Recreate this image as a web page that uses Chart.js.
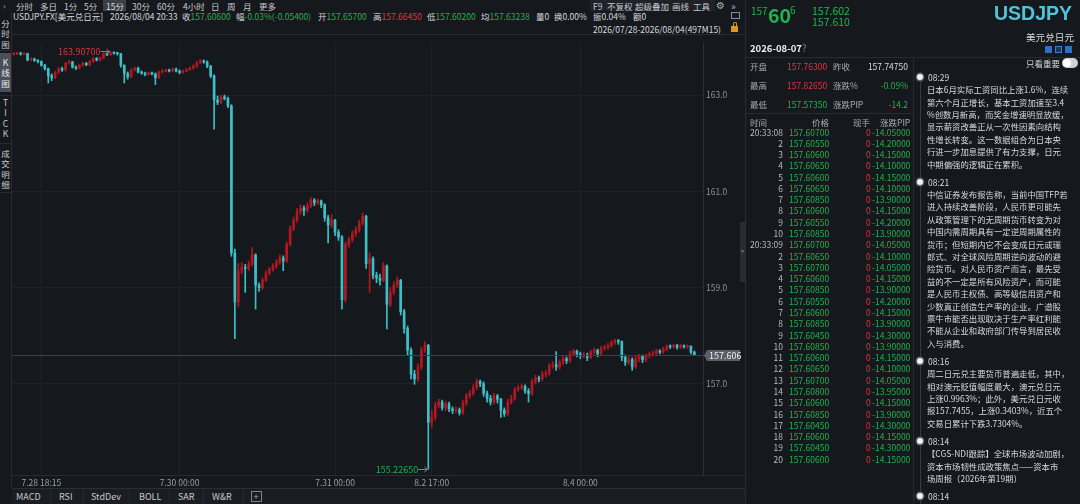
<!DOCTYPE html>
<html>
<head>
<meta charset="utf-8">
<script src="https://cdn.jsdelivr.net/npm/chart.js@4.4.1/dist/chart.umd.min.js"></script>
<style>
    * { box-sizing: border-box; }
    html, body { margin: 0; padding: 0; }
    body {
        width: 1080px; height: 504px; overflow: hidden; position: relative;
        background: #15181d; color: #c6c9ce;
        font-family: "Noto Sans CJK SC", "Noto Sans", "DejaVu Sans", sans-serif;
        font-size: 8.5px;
    }
    .a { position: absolute; white-space: nowrap; line-height: 1; }
    .g { color: #22b24c; }
    .r { color: #e2343f; }
    .w { color: #d8dadf; }
    .m { color: #a9adb4; }
    .hl { position: absolute; height: 1px; background: #272b32; }
    .vl { position: absolute; width: 1px; background: #272b32; }
    .tab { position: absolute; left: 0; width: 11px; text-align: center; line-height: 10.5px; font-size: 8.5px; color: #c9ccd1; }
    .clip { overflow: hidden; }
    #kline { position: absolute; left: 12px; top: 35px; }
</style>
</head>
<body>

<!-- top toolbar -->
<div class="a m" style="left:3px;top:1px;">›</div>
<div class="a" style="left:103px;top:0;width:23px;height:11px;background:#3b3f48;"></div>
<div class="a" style="left:16px;top:1.5px;">分时</div>
<div class="a" style="left:40px;top:1.5px;">多日</div>
<div class="a" style="left:64px;top:1.5px;">1分</div>
<div class="a" style="left:84px;top:1.5px;">5分</div>
<div class="a w" style="left:106px;top:1.5px;">15分</div>
<div class="a" style="left:132px;top:1.5px;">30分</div>
<div class="a" style="left:157px;top:1.5px;">60分</div>
<div class="a" style="left:183px;top:1.5px;">4小时</div>
<div class="a" style="left:211px;top:1.5px;">日</div>
<div class="a" style="left:227px;top:1.5px;">周</div>
<div class="a" style="left:243px;top:1.5px;">月</div>
<div class="a" style="left:259px;top:1.5px;">更多</div>

<div class="a" style="left:590px;top:0;width:125px;height:11px;background:#1f2228;"></div>
<div class="a" style="left:593px;top:1.5px;">F9</div>
<div class="a" style="left:607px;top:1.5px;">不复权</div>
<div class="a" style="left:635px;top:1.5px;">超级叠加</div>
<div class="a" style="left:672px;top:1.5px;">画线</div>
<div class="a" style="left:693px;top:1.5px;">工具</div>
<div class="a m" style="left:716px;top:0.5px;font-size:10px;font-family:'DejaVu Sans';">⚙</div>
<div class="a m" style="left:731px;top:0.5px;font-size:10px;">»</div>

<!-- info line -->
<div class="a w" style="left:13px;top:12px;">USDJPY.FX[美元兑日元]</div>
<div class="a w" style="left:110px;top:12px;">2026/08/04 20:33</div>
<div class="a" style="left:182px;top:12px;"><span class="w">收</span><span class="g">157.60600</span></div>
<div class="a" style="left:236px;top:12px;"><span class="w">幅</span><span class="g">-0.03%(-0.05400)</span></div>
<div class="a" style="left:318px;top:12px;"><span class="w">开</span><span class="g">157.65700</span></div>
<div class="a" style="left:373px;top:12px;"><span class="w">高</span><span class="r">157.66450</span></div>
<div class="a" style="left:427px;top:12px;"><span class="w">低</span><span class="g">157.60200</span></div>
<div class="a" style="left:481px;top:12px;"><span class="w">均</span><span class="g">157.63238</span></div>
<div class="a w" style="left:536px;top:12px;">量0</div>
<div class="a w" style="left:554px;top:12px;">换0.00%</div>
<div class="a w" style="left:593px;top:12px;">振0.04%</div>
<div class="a w" style="left:633px;top:12px;">额0</div>
<div class="a" style="left:731px;top:12px;width:9px;height:7px;border:1px solid #8a8e96;"></div>
<div class="a w" style="left:593px;top:24.5px;">2026/07/28-2026/08/04(497M15)</div>
<div class="a" style="left:731px;top:26px;width:7px;height:6px;background:#d99a1c;"></div>
<div class="a" style="left:733px;top:22px;width:4px;height:5px;border:1px solid #d99a1c;border-bottom:none;border-radius:2px 2px 0 0;"></div>

<!-- left vertical tabs -->
<div class="vl" style="left:11px;top:12px;height:476px;"></div>
<div class="tab" style="top:17.8px;">分<br>时<br>图</div>
<div class="hl" style="left:0;top:50px;width:11px;"></div>
<div class="a" style="left:0;top:53px;width:11px;height:39px;background:#4b4f58;"></div>
<div class="tab" style="top:56.8px;color:#eceef1;">K<br>线<br>图</div>
<div class="hl" style="left:0;top:95px;width:11px;"></div>
<div class="tab" style="top:96.8px;">T<br>I<br>C<br>K</div>
<div class="hl" style="left:0;top:143px;width:11px;"></div>
<div class="tab" style="top:147.8px;">成<br>交<br>明<br>细</div>
<div class="hl" style="left:0;top:192px;width:11px;"></div>

<!-- chart frame -->
<div class="hl" style="left:12px;top:34px;width:733px;"></div>
<div class="hl" style="left:12px;top:475px;width:733px;"></div>
<canvas id="kline" width="733" height="453"></canvas>

<!-- bottom indicator bar -->
<div class="a" style="left:12px;top:488px;width:733px;height:16px;background:#1a1d22;border-top:1px solid #2a2e35;"></div>
<div class="a" style="left:16px;top:492px;font-size:9px;">MACD</div>
<div class="vl" style="left:50px;top:490px;height:12px;"></div>
<div class="a" style="left:59px;top:492px;font-size:9px;">RSI</div>
<div class="vl" style="left:83px;top:490px;height:12px;"></div>
<div class="a" style="left:91px;top:492px;font-size:9px;">StdDev</div>
<div class="vl" style="left:129px;top:490px;height:12px;"></div>
<div class="a" style="left:139px;top:492px;font-size:9px;">BOLL</div>
<div class="vl" style="left:169px;top:490px;height:12px;"></div>
<div class="a" style="left:178px;top:492px;font-size:9px;">SAR</div>
<div class="vl" style="left:203px;top:490px;height:12px;"></div>
<div class="a" style="left:212px;top:492px;font-size:9px;">W&amp;R</div>
<div class="vl" style="left:243px;top:490px;height:12px;"></div>
<div class="a" style="left:251px;top:491px;width:11px;height:11px;border:1px solid #7d818a;"></div>
<div class="a m" style="left:253.5px;top:491.5px;font-size:9px;">+</div>

<!-- collapse handle + panel border -->
<div class="vl" style="left:745px;top:0;height:504px;"></div>
<div class="a" style="left:740px;top:222px;width:6px;height:60px;background:#2a2d33;border-radius:2px 0 0 2px;"></div>
<div class="a m" style="left:741px;top:248px;font-size:6px;">»</div>

<!-- right quote panel -->
<div class="a g" style="left:751px;top:5.5px;font-size:10px;">157.</div>
<div class="a g" style="left:768px;top:5.3px;font-size:19.5px;font-weight:bold;">60</div>
<div class="a g" style="left:790px;top:5px;font-size:10px;">6</div>
<div class="a g" style="left:812px;top:5.8px;font-size:10.5px;">157.602</div>
<div class="a g" style="left:812px;top:16.8px;font-size:10.5px;">157.610</div>
<div class="a" style="right:8px;top:4px;font-size:19.5px;font-weight:bold;color:#52c3da;font-family:'Liberation Sans',Arial,sans-serif;">USDJPY</div>
<div class="a w" style="right:6px;top:33px;font-size:9.6px;">美元兑日元</div>
<div class="a" style="left:1045px;top:46px;width:7px;height:7px;background:#2f6fc4;"></div>
<div class="a" style="left:1055px;top:46px;width:7px;height:7px;background:#1d3557;border:1px solid #3f7fd0;"></div>
<div class="a" style="left:1065px;top:46px;width:7px;height:7px;background:#2f6fc4;"></div>
<div class="a" style="left:750px;top:44.3px;font-size:9.5px;font-weight:bold;color:#eef0f3;">2026-08-07<span style="font-weight:normal;color:#7d818a;">?</span></div>
<div class="hl" style="left:746px;top:57px;width:334px;"></div>
<div class="vl" style="left:913px;top:57px;height:447px;"></div>

<div class="a m" style="left:750px;top:62px;">开盘</div>
<div class="a r" style="left:787px;top:62px;">157.76300</div>
<div class="a m" style="left:833px;top:62px;">昨收</div>
<div class="a w" style="right:172px;top:62px;">157.74750</div>
<div class="a m" style="left:750px;top:81px;">最高</div>
<div class="a r" style="left:787px;top:81px;">157.82650</div>
<div class="a m" style="left:833px;top:81px;">涨跌%</div>
<div class="a g" style="right:172px;top:81px;">-0.09%</div>
<div class="a m" style="left:750px;top:100px;">最低</div>
<div class="a g" style="left:787px;top:100px;">157.57350</div>
<div class="a m" style="left:833px;top:100px;">涨跌PIP</div>
<div class="a g" style="right:172px;top:100px;">-14.2</div>
<div class="hl" style="left:746px;top:113px;width:167px;"></div>
<div class="a m" style="left:750px;top:117.7px;">时间</div>
<div class="a m" style="left:812px;top:117.7px;">价格</div>
<div class="a m" style="left:853px;top:117.7px;">现手</div>
<div class="a m" style="left:880px;top:117.7px;">涨跌PIP</div>
<div id="ticks"></div>

<div class="a w" style="left:1026px;top:58.7px;">只看重要</div>
<div class="a" style="left:1062px;top:58px;width:16px;height:10px;border-radius:5px;background:#cfd1d5;"></div>
<div class="a" style="left:1063px;top:59px;width:8px;height:8px;border-radius:4px;background:#ffffff;"></div>
<div class="vl" style="left:920px;top:72px;height:432px;background:#363a41;"></div>
<div id="news"></div>

<script>
// 15-minute candles, USDJPY 7.28 18:15 -> 8.4 20:33
const firstOpen = 163.85;

const closes = [
    163.86, 163.87, 163.85, 163.86, 163.73, 163.75, 163.72, 163.70, 163.62, 163.55,
    163.40, 163.36, 163.47, 163.55, 163.52, 163.66, 163.69, 163.58, 163.56, 163.62,
    163.66, 163.63, 163.70, 163.76, 163.73, 163.77, 163.86, 163.84, 163.88, 163.87,
    163.86, 163.62, 163.45, 163.38, 163.52, 163.56, 163.48, 163.46, 163.43, 163.46,
    163.44, 163.36, 163.48, 163.50, 163.52, 163.50, 163.54, 163.50, 163.47, 163.50,
    163.53, 163.56, 163.60, 163.67, 163.71, 163.69, 163.60, 163.40, 162.90, 162.85,
    162.96, 162.93, 162.78, 159.72, 158.70, 159.35, 159.42, 159.40, 159.48, 159.68,
    159.05, 159.00, 159.15, 159.30, 159.38, 159.45, 159.52, 159.62, 159.55, 159.90,
    160.22, 160.40, 160.58, 160.65, 160.60, 160.70, 160.82, 160.76, 160.80, 160.72,
    160.45, 160.30, 160.40, 160.15, 160.05, 158.75, 159.90, 160.00, 160.12, 160.20,
    160.35, 160.48, 159.50, 159.60, 159.25, 159.20, 159.15, 159.45, 158.65, 158.90,
    159.05, 159.15, 158.50, 158.15, 157.70, 157.20, 157.10, 157.35, 157.70, 157.80,
    156.20, 156.30, 156.55, 156.62, 156.50, 156.58, 156.48, 156.44, 156.46, 156.40,
    156.60, 156.75, 156.80, 156.92, 157.05, 157.00, 156.80, 156.70, 156.62, 156.75,
    156.68, 156.45, 156.38, 156.62, 156.70, 156.88, 156.92, 156.95, 156.85, 156.80,
    157.05, 157.12, 157.10, 157.20, 157.22, 157.38, 157.40, 157.35, 157.45, 157.52,
    157.48, 157.62, 157.68, 157.62, 157.58, 157.60, 157.55, 157.66, 157.70, 157.62,
    157.74, 157.76, 157.80, 157.86, 157.90, 157.88, 157.55, 157.45, 157.50, 157.35,
    157.52, 157.58, 157.50, 157.58, 157.62, 157.64, 157.68, 157.66, 157.72, 157.78,
    157.77, 157.80, 157.76, 157.79, 157.77, 157.78, 157.66, 157.606,
];

const highs = [
    163.88, 163.89, 163.89, 163.88, 163.87, 163.78, 163.77, 163.74, 163.71, 163.64,
    163.56, 163.44, 163.49, 163.57, 163.58, 163.68, 163.72, 163.70, 163.61, 163.64,
    163.68, 163.68, 163.72, 163.78, 163.78, 163.79, 163.88, 163.88, 163.907, 163.90,
    163.89, 163.87, 163.63, 163.48, 163.55, 163.58, 163.58, 163.50, 163.48, 163.48,
    163.48, 163.46, 163.50, 163.53, 163.54, 163.54, 163.56, 163.56, 163.52, 163.52,
    163.55, 163.58, 163.63, 163.70, 163.74, 163.73, 163.71, 163.62, 163.42, 162.98,
    163.00, 163.00, 162.96, 162.80, 159.80, 159.50, 159.52, 159.48, 159.55, 159.83,
    159.70, 159.10, 159.20, 159.35, 159.42, 159.50, 159.58, 159.68, 159.66, 159.95,
    160.28, 160.46, 160.64, 160.72, 160.70, 160.76, 160.87, 160.85, 160.84, 160.82,
    160.74, 160.50, 160.52, 160.42, 160.20, 160.08, 159.95, 160.05, 160.18, 160.26,
    160.40, 160.55, 160.50, 159.72, 159.64, 159.32, 159.28, 159.52, 159.47, 159.00,
    159.12, 159.22, 159.17, 158.55, 158.20, 157.75, 157.28, 157.42, 157.76, 157.88,
    157.82, 156.45, 156.62, 156.68, 156.66, 156.64, 156.62, 156.52, 156.52, 156.50,
    156.66, 156.80, 156.86, 156.98, 157.10, 157.08, 157.04, 156.85, 156.76, 156.80,
    156.78, 156.70, 156.50, 156.68, 156.76, 156.92, 156.97, 157.00, 156.98, 156.90,
    157.10, 157.18, 157.16, 157.26, 157.28, 157.42, 157.46, 157.67, 157.50, 157.58,
    157.56, 157.68, 157.72, 157.70, 157.66, 157.65, 157.64, 157.70, 157.74, 157.72,
    157.78, 157.80, 157.84, 157.90, 157.93, 157.92, 157.89, 157.60, 157.56, 157.54,
    157.58, 157.62, 157.60, 157.62, 157.66, 157.68, 157.72, 157.71, 157.76, 157.81,
    157.81, 157.83, 157.82, 157.82, 157.81, 157.81, 157.79, 157.68,
];

const lows = [
    163.83, 163.84, 163.83, 163.84, 163.71, 163.71, 163.70, 163.67, 163.60, 163.52,
    163.25, 163.30, 163.34, 163.45, 163.49, 163.50, 163.64, 163.56, 163.53, 163.54,
    163.60, 163.61, 163.61, 163.68, 163.71, 163.71, 163.75, 163.82, 163.82, 163.85,
    163.83, 163.58, 163.25, 163.33, 163.36, 163.50, 163.46, 163.43, 163.40, 163.41,
    163.42, 163.22, 163.34, 163.46, 163.48, 163.48, 163.48, 163.48, 163.44, 163.45,
    163.48, 163.51, 163.54, 163.58, 163.65, 163.66, 163.57, 163.36, 162.29, 162.80,
    162.82, 162.90, 162.74, 159.65, 157.94, 158.60, 159.28, 158.90, 159.35, 159.45,
    158.55, 158.92, 158.96, 159.12, 159.26, 159.34, 159.40, 159.48, 159.35, 159.52,
    159.86, 160.18, 160.36, 160.52, 160.50, 160.56, 160.66, 160.70, 160.72, 160.66,
    160.38, 159.93, 160.25, 160.08, 159.98, 158.55, 158.70, 159.84, 159.95, 160.06,
    160.15, 160.30, 159.40, 158.90, 159.18, 159.10, 159.05, 159.12, 158.14, 158.60,
    158.85, 159.00, 158.43, 158.05, 157.60, 157.10, 156.99, 157.05, 157.30, 157.65,
    155.2265, 156.10, 156.25, 156.50, 156.45, 156.44, 156.42, 156.38, 156.40, 156.35,
    156.36, 156.55, 156.70, 156.76, 156.88, 156.94, 156.74, 156.62, 156.56, 156.58,
    156.60, 156.30, 156.32, 156.34, 156.58, 156.66, 156.84, 156.88, 156.80, 156.62,
    156.76, 157.00, 157.04, 157.06, 157.14, 157.18, 157.32, 157.28, 157.30, 157.40,
    157.42, 157.44, 157.58, 157.56, 157.52, 157.54, 157.48, 157.52, 157.62, 157.56,
    157.58, 157.70, 157.72, 157.76, 157.82, 157.82, 157.48, 157.38, 157.40, 157.28,
    157.32, 157.46, 157.44, 157.46, 157.54, 157.58, 157.60, 157.62, 157.63, 157.69,
    157.73, 157.74, 157.72, 157.73, 157.74, 157.73, 157.62, 157.59,
];

// bottom axis labels, keyed by candle index
const xTickLabels = {
    8: "7.28 18:15",
    48: "7.30 00:00",
    93: "7.31 00:00",
    121: "8.2 17:00",
    164: "8.4 00:00",
};
const yTicks = [157, 159, 161, 163];

// time & sales list
const tsTimes = ["20:33:08", "2", "3", "4", "5", "6", "7", "8", "9", "10",
    "20:33:09", "2", "3", "4", "5", "6", "7", "8", "9", "10",
    "11", "12", "13", "14", "15", "16", "17", "18", "19", "20"];
const tsPrices = ["157.60700", "157.60550", "157.60600", "157.60650", "157.60600",
    "157.60650", "157.60850", "157.60600", "157.60550", "157.60850",
    "157.60700", "157.60650", "157.60700", "157.60600", "157.60850",
    "157.60550", "157.60600", "157.60850", "157.60450", "157.60850",
    "157.60600", "157.60650", "157.60700", "157.60800", "157.60600",
    "157.60850", "157.60450", "157.60600", "157.60450", "157.60600"];
const tsPips = ["-14.05000", "-14.20000", "-14.15000", "-14.10000", "-14.15000",
    "-14.10000", "-13.90000", "-14.15000", "-14.20000", "-13.90000",
    "-14.05000", "-14.10000", "-14.05000", "-14.15000", "-13.90000",
    "-14.20000", "-14.15000", "-13.90000", "-14.30000", "-13.90000",
    "-14.15000", "-14.10000", "-14.05000", "-13.95000", "-14.15000",
    "-13.90000", "-14.30000", "-14.15000", "-14.30000", "-14.15000"];

const newsItems = [
    { time: "08:29", lines: [
        "日本6月实际工资同比上涨1.6%，连续",
        "第六个月正增长，基本工资加速至3.4",
        "%创数月新高，而奖金增速明显放缓，",
        "显示薪资改善正从一次性因素向结构",
        "性增长转变。这一数据组合为日本央",
        "行进一步加息提供了有力支撑，日元",
        "中期偏强的逻辑正在累积。"] },
    { time: "08:21", lines: [
        "中信证券发布报告称，当前中国TFP若",
        "进入持续改善阶段，人民币更可能先",
        "从政策管理下的无周期货币转变为对",
        "中国内需周期具有一定逆周期属性的",
        "货币；但短期内它不会变成日元或瑞",
        "郎式、对全球风险周期逆向波动的避",
        "险货币。对人民币资产而言，最先受",
        "益的不一定是所有风险资产，而可能",
        "是人民币主权债、高等级信用资产和",
        "少数真正创造生产率的企业。广谱股",
        "票牛市能否出现取决于生产率红利能",
        "不能从企业和政府部门传导到居民收",
        "入与消费。"] },
    { time: "08:16", lines: [
        "周二日元兑主要货币普遍走低，其中，",
        "相对澳元贬值幅度最大，澳元兑日元",
        "上涨0.9963%；此外，美元兑日元收",
        "报157.7455，上涨0.3403%，近五个",
        "交易日累计下跌3.7304%。"] },
    { time: "08:14", lines: [
        "【CGS-NDI跟踪】全球市场波动加剧，",
        "资本市场韧性成政策焦点——资本市",
        "场周报（2026年第19期）"] },
    { time: "08:14", lines: [] },
];

/*
|--------------------------------------------------------------------------
| Side panels
|--------------------------------------------------------------------------
*/

let html = "";
tsTimes.forEach((t, i) => {
    const top = 127.5 + i * 11.28;
    html += `<div class="a w" style="right:297px;top:${top}px;color:#b7bac0;">${t}</div>`;
    html += `<div class="a g clip" style="left:789px;top:${top}px;width:41px;">${tsPrices[i]}</div>`;
    html += `<div class="a r" style="left:866px;top:${top}px;">0</div>`;
    html += `<div class="a g clip" style="left:872px;top:${top}px;width:40px;">${tsPips[i]}</div>`;
});
document.getElementById("ticks").innerHTML = html;

html = "";
let ny = 77;
newsItems.forEach((item) => {
    html += `<div class="a" style="left:917px;top:${ny - 3}px;width:6px;height:6px;border-radius:3px;background:#f2f2f2;box-shadow:0 0 0 1.5px #5a5e66;"></div>`;
    html += `<div class="a w" style="left:928px;top:${ny - 4.3}px;">${item.time}</div>`;
    item.lines.forEach((line, k) => {
        html += `<div class="a w" style="left:927px;top:${ny + 12.4 * (k + 1) - 4.2}px;font-size:8.4px;">${line}</div>`;
    });
    ny += 12.4 * item.lines.length + 18;
});
document.getElementById("news").innerHTML = html;

/*
|--------------------------------------------------------------------------
| Candles
|--------------------------------------------------------------------------
*/

const UP = "#b3171f";
const DOWN = "#3cc0c7";
const SLOTS = 200;

const opens = closes.map((c, i) => (i === 0 ? firstOpen : closes[i - 1]));
const candleColor = (ctx) =>
    closes[ctx.dataIndex] >= opens[ctx.dataIndex] ? UP : DOWN;

Chart.defaults.font.family = '"Noto Sans CJK SC", "Noto Sans", sans-serif';

const markers = {
    id: "markers",
    afterDatasetsDraw(chart) {
        const { ctx, chartArea: a, scales: { x, y } } = chart;

        // last price line + tag
        const last = closes[closes.length - 1];
        const ly = Math.round(y.getPixelForValue(last)) + 0.5;
        ctx.save();
        ctx.strokeStyle = "#3a3e46";
        ctx.lineWidth = 1;
        ctx.beginPath();
        ctx.moveTo(a.left, ly);
        ctx.lineTo(a.right, ly);
        ctx.stroke();

        ctx.fillStyle = "#5b5e66";
        ctx.beginPath();
        ctx.moveTo(a.right + 1, ly);
        ctx.lineTo(a.right + 4, ly - 5.5);
        ctx.lineTo(a.right + 37, ly - 5.5);
        ctx.lineTo(a.right + 37, ly + 5.5);
        ctx.lineTo(a.right + 4, ly + 5.5);
        ctx.closePath();
        ctx.fill();
        ctx.fillStyle = "#eceef1";
        ctx.font = '9px "Noto Sans CJK SC", sans-serif';
        ctx.textBaseline = "middle";
        ctx.textAlign = "left";
        ctx.fillText(last.toFixed(3), a.right + 6, ly + 0.5);

        // extreme markers
        const hi = Math.max(...highs);
        const lo = Math.min(...lows);
        const tag = (idx, val, color) => {
            const px = x.getPixelForValue(idx);
            const py = Math.round(y.getPixelForValue(val)) + 0.5;
            ctx.strokeStyle = "#80848c";
            ctx.beginPath();
            ctx.moveTo(px - 10, py);
            ctx.lineTo(px - 1, py);
            ctx.moveTo(px - 4, py - 2.5);
            ctx.lineTo(px - 1, py);
            ctx.lineTo(px - 4, py + 2.5);
            ctx.stroke();
            ctx.fillStyle = color;
            ctx.textAlign = "right";
            ctx.fillText(val.toFixed(5), px - 10, py + 0.5);
        };
        tag(highs.indexOf(hi), hi, "#e2343f");
        tag(lows.indexOf(lo), lo, "#22b24c");
        ctx.restore();
    },
};

new Chart(document.getElementById("kline"), {
    type: "bar",

    data: {
        labels: Array.from({ length: SLOTS }, (_, i) => i),

        datasets: [
            {
                label: "body",
                data: closes.map((c, i) => [opens[i], c]),
                backgroundColor: candleColor,
                barThickness: 2,
                minBarLength: 1,
                grouped: false,
                order: 1,
            },
            {
                label: "wick",
                data: lows.map((l, i) => [l, highs[i]]),
                backgroundColor: candleColor,
                barThickness: 1,
                grouped: false,
                order: 2,
            },
        ],
    },

    options: {
        responsive: false,
        animation: false,
        layout: { padding: { top: 3, left: 0, right: 0, bottom: 0 } },

        plugins: {
            legend: { display: false },
            tooltip: { enabled: false },
        },

        scales: {
            x: {
                offset: true,
                grid: { color: "#1f2329", offset: false, drawTicks: false },
                border: { display: false },
                ticks: {
                    autoSkip: false,
                    maxRotation: 0,
                    padding: 3,
                    color: "#9a9ea6",
                    font: { size: 8.5 },
                    callback: (v) => xTickLabels[v] ?? "",
                },
                afterBuildTicks: (s) => {
                    s.ticks = Object.keys(xTickLabels).map((k) => ({ value: +k }));
                },
                afterFit: (s) => {
                    s.height = 13;
                },
            },

            y: {
                position: "right",
                min: 155.105,
                max: 164.08,
                grid: { color: "#1f2329", drawTicks: false },
                border: { display: true, color: "#2c3037" },
                ticks: {
                    padding: 3,
                    color: "#8d9199",
                    font: { size: 8.5 },
                    callback: (v) => v.toFixed(1),
                },
                afterBuildTicks: (s) => {
                    s.ticks = yTicks.map((v) => ({ value: v }));
                },
                afterFit: (s) => {
                    s.width = 42;
                },
            },
        },
    },

    plugins: [markers],
});
</script>
</body>
</html>
